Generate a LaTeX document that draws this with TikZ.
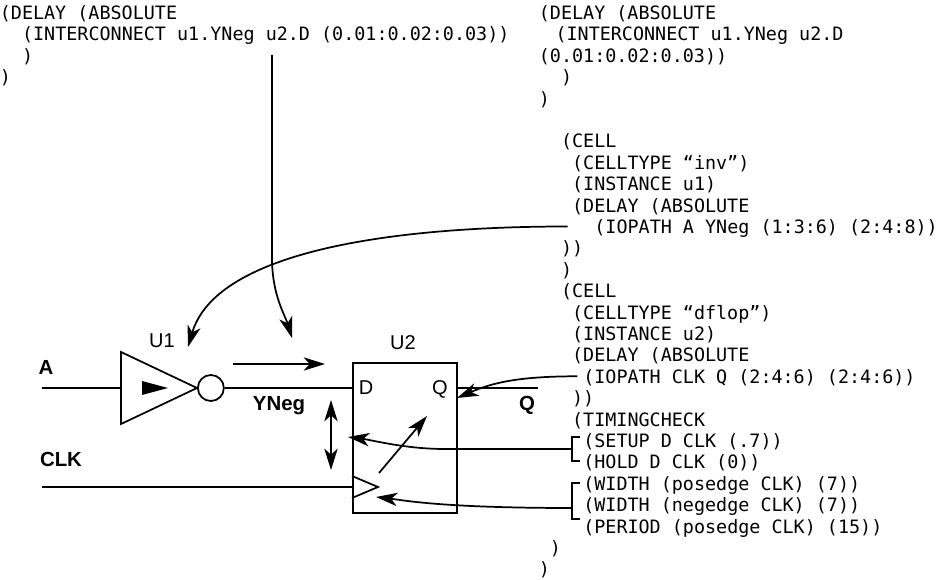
\documentclass[tikz,border=0pt]{standalone}
\usepackage{fontspec}
\setmonofont{DejaVu Sans Mono}
\setsansfont{Liberation Sans}
\usetikzlibrary{arrows.meta,calc}

\begin{document}
\begin{tikzpicture}[x=0.75pt,y=-0.75pt,line width=1.3pt,
    >={Stealth[length=16pt,width=10pt,inset=4.5pt]}]
    \tikzstyle{code}=[font=\ttfamily\fontsize{13.8pt}{16pt}\selectfont,anchor=base west,inner sep=0pt]
    \tikzstyle{partname}=[font=\sffamily\fontsize{15pt}{18pt}\selectfont,anchor=base,inner sep=0pt]
    \tikzstyle{signame}=[font=\sffamily\bfseries\fontsize{15.3pt}{18pt}\selectfont,anchor=base,inner sep=0pt]
    \useasboundingbox (0,0) rectangle (946,580);

    % SDF text, left
    \foreach \n/\c/\txt in {0/0/{(DELAY (ABSOLUTE}, 1/2/{(INTERCONNECT u1.YNeg u2.D (0.01:0.02:0.03))},
            2/2/{)}, 3/0/{)}}
        \node[code] (L-\n) at ({-1+\c*11.1},{19.5+\n*21.4}) {\txt};

    % SDF text, right
    \foreach \n/\c/\txt in {0/0/{(DELAY (ABSOLUTE}, 1/1.5/{(INTERCONNECT u1.YNeg u2.D}, 2/0/{(0.01:0.02:0.03))},
            3/2/{)}, 4/0/{)},
            6/2/{(CELL}, 7/3/{(CELLTYPE “inv”)}, 8/3/{(INSTANCE u1)}, 9/3/{(DELAY (ABSOLUTE},
            10/5/{(IOPATH A YNeg (1:3:6) (2:4:8))}, 11/2/{))}, 12/2/{)},
            13/2/{(CELL}, 14/3/{(CELLTYPE “dflop”)}, 15/3/{(INSTANCE u2)}, 16/3/{(DELAY (ABSOLUTE},
            17/4/{(IOPATH CLK Q (2:4:6) (2:4:6))}, 18/3/{))}, 19/3/{(TIMINGCHECK},
            20/4/{(SETUP D CLK (.7))}, 21/4/{(HOLD D CLK (0))}, 22/4/{(WIDTH (posedge CLK) (7))},
            23/4/{(WIDTH (negedge CLK) (7))}, 24/4/{(PERIOD (posedge CLK) (15))},
            25/1/{)}, 26/0/{)}}
        \node[code] (R-\n) at ({538+\c*11.1},{19.5+\n*21.4}) {\txt};

    % inverter U1
    \coordinate (inv-in) at (121,388);
    \coordinate (inv-out) at (197,388);
    \draw (inv-in) ++(0,-36) -- (inv-out) -- ($(inv-in)+(0,36)$) -- cycle;
    \fill (142,381) -- (168,388) -- (142,395) -- cycle;
    \node[circle,draw,minimum size=19.5pt,inner sep=0pt,anchor=west] (bub) at (inv-out) {};

    % flip-flop U2
    \node[draw,minimum width=78pt,minimum height=112.5pt,anchor=north west,inner sep=0pt] (ff) at (352,362) {};

    \node[partname] (U1) at (162,348) {U1};
    \node[partname] (U2) at (403,350) {U2};
    \node[partname] (D) at (366,395) {D};
    \node[partname] (Qi) at (440,395) {Q};
    \node[signame] (A) at (46,375) {A};
    \node[signame] (CLK) at (61,467) {CLK};
    \node[signame] (YNeg) at (279,411) {YNeg};
    \node[signame] (Q) at (527,411) {Q};

    % wires
    \coordinate (A-in) at (42,388);
    \coordinate (CLK-in) at (42,487);
    \coordinate (Q-out) at (538,388);
    \draw (A-in) -- (inv-in);
    \draw (bub.east) -- (bub.east -| ff.west);
    \draw (ff.east |- bub.east) -- (Q-out);
    \draw (CLK-in) -- (CLK-in -| ff.west);
    \draw ($(CLK-in -| ff.west)+(0,-11)$) -- ++(26,11) -- ++(-26,11);

    % arrows in the circuit
    \draw[->] (233,364) -- (325,364);
    \draw[<->] (331,400) -- (331,470);
    \draw[->] (379,473) -- (427,416);

    % arrows from the SDF text
    \draw[->] (272,55) -- (272,258) .. controls (272,295) and (285,315) .. (292,338);
    \draw[->] ($(R-10.base west)+(-26,-7)$) .. controls +(-190,0) and +(27,-92) .. (188,347);
    \draw[->] ($(R-17.base west)+(-5,-7)$) .. controls +(-60,0) and +(35,-15) .. (457,398);

    \draw (580,437) -- (572,437) -- (572,461) -- (580,461);
    \draw (580,483) -- (572,483) -- (572,519) -- (580,519);
    \draw[->] (572,449) -- (445,449) .. controls (405,449) and (372,440) .. (348,437);
    \draw[->] (572,508) .. controls (440,508) and (402,500) .. (376,497);
\end{tikzpicture}
\end{document}
